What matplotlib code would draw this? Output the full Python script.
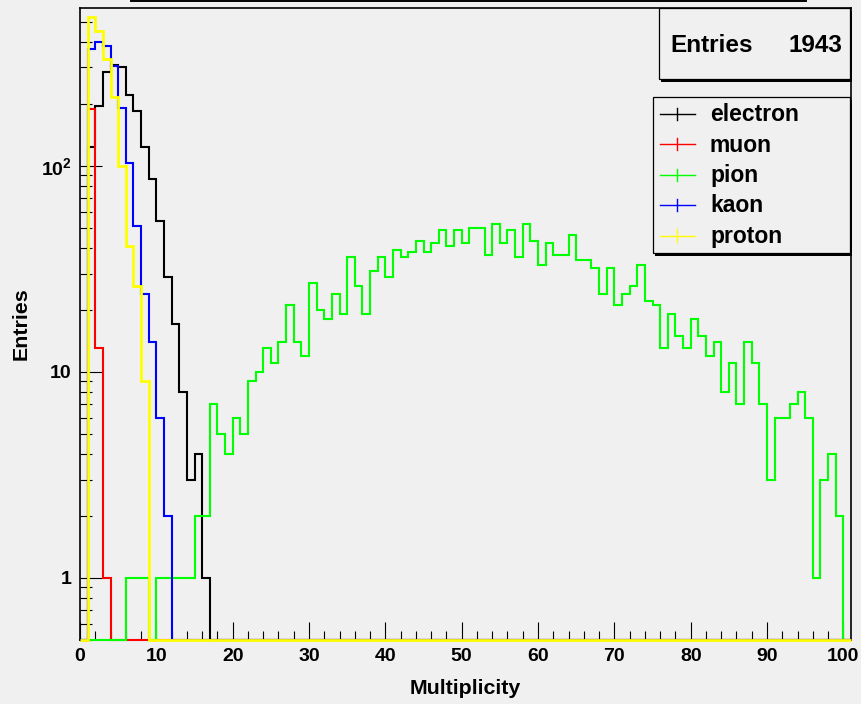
import numpy as np
import matplotlib
matplotlib.use("Agg")
import matplotlib.pyplot as plt
from matplotlib import ticker
from matplotlib.lines import Line2D
from matplotlib.patches import Rectangle

# ---- data: particle multiplicity per event, 101 bins of width 1 (0..100) ----
bin_edges = np.arange(0, 102)

electron = [0, 124, 194, 285, 308, 302, 220, 184, 124, 86,
            54, 29, 17, 8, 3, 4, 1, 0, 0, 0,
            0, 0, 0, 0, 0, 0, 0, 0, 0, 0,
            0, 0, 0, 0, 0, 0, 0, 0, 0, 0,
            0, 0, 0, 0, 0, 0, 0, 0, 0, 0,
            0, 0, 0, 0, 0, 0, 0, 0, 0, 0,
            0, 0, 0, 0, 0, 0, 0, 0, 0, 0,
            0, 0, 0, 0, 0, 0, 0, 0, 0, 0,
            0, 0, 0, 0, 0, 0, 0, 0, 0, 0,
            0, 0, 0, 0, 0, 0, 0, 0, 0, 0,
            0]

muon = [0, 188, 13, 1, 0, 0, 0, 0, 0, 0,
        0, 0, 0, 0, 0, 0, 0, 0, 0, 0,
        0, 0, 0, 0, 0, 0, 0, 0, 0, 0,
        0, 0, 0, 0, 0, 0, 0, 0, 0, 0,
        0, 0, 0, 0, 0, 0, 0, 0, 0, 0,
        0, 0, 0, 0, 0, 0, 0, 0, 0, 0,
        0, 0, 0, 0, 0, 0, 0, 0, 0, 0,
        0, 0, 0, 0, 0, 0, 0, 0, 0, 0,
        0, 0, 0, 0, 0, 0, 0, 0, 0, 0,
        0, 0, 0, 0, 0, 0, 0, 0, 0, 0,
        0]

pion = [0, 0, 0, 0, 0, 0, 1, 1, 1, 0,
        1, 1, 1, 1, 1, 2, 2, 7, 5, 4,
        6, 5, 9, 10, 13, 11, 14, 21, 14, 12,
        27, 20, 18, 24, 19, 36, 26, 19, 31, 36,
        29, 39, 36, 38, 43, 38, 42, 49, 41, 49,
        42, 50, 50, 37, 52, 42, 49, 36, 52, 43,
        33, 42, 37, 37, 46, 35, 35, 32, 24, 32,
        21, 24, 26, 33, 22, 21, 13, 19, 15, 13,
        18, 15, 12, 14, 8, 11, 7, 14, 11, 7,
        3, 6, 6, 7, 8, 6, 1, 3, 4, 2,
        0]

kaon = [0, 367, 400, 381, 305, 191, 103, 51, 24, 14,
        6, 2, 0, 0, 0, 0, 0, 0, 0, 0,
        0, 0, 0, 0, 0, 0, 0, 0, 0, 0,
        0, 0, 0, 0, 0, 0, 0, 0, 0, 0,
        0, 0, 0, 0, 0, 0, 0, 0, 0, 0,
        0, 0, 0, 0, 0, 0, 0, 0, 0, 0,
        0, 0, 0, 0, 0, 0, 0, 0, 0, 0,
        0, 0, 0, 0, 0, 0, 0, 0, 0, 0,
        0, 0, 0, 0, 0, 0, 0, 0, 0, 0,
        0, 0, 0, 0, 0, 0, 0, 0, 0, 0,
        0]

proton = [0, 530, 450, 330, 215, 100, 41, 26, 9, 0,
          0, 0, 0, 0, 0, 0, 0, 0, 0, 0,
          0, 0, 0, 0, 0, 0, 0, 0, 0, 0,
          0, 0, 0, 0, 0, 0, 0, 0, 0, 0,
          0, 0, 0, 0, 0, 0, 0, 0, 0, 0,
          0, 0, 0, 0, 0, 0, 0, 0, 0, 0,
          0, 0, 0, 0, 0, 0, 0, 0, 0, 0,
          0, 0, 0, 0, 0, 0, 0, 0, 0, 0,
          0, 0, 0, 0, 0, 0, 0, 0, 0, 0,
          0, 0, 0, 0, 0, 0, 0, 0, 0, 0,
          0]

species = ["electron", "muon", "pion", "kaon", "proton"]
series = [electron, muon, pion, kaon, proton]
colors = ["#000000", "#ff0000", "#00ff00", "#0000ff", "#ffff00"]
widths = [1.5, 1.5, 1.5, 1.5, 2.0]

n_entries = 1943
x_major = [0, 10, 20, 30, 40, 50, 60, 70, 80, 90, 100]
y_major = [1, 10, 100]
y_major_labels = ["1", "10", r"$\mathbf{10^{2}}$"]

# ---- figure ----
plt.rcParams["font.family"] = ["Liberation Sans", "DejaVu Sans"]
plt.rcParams["font.weight"] = "bold"
plt.rcParams["mathtext.fontset"] = "custom"
plt.rcParams["mathtext.rm"] = "Liberation Sans:bold"
plt.rcParams["mathtext.bf"] = "Liberation Sans:bold"

BG = "#f0f0f0"
W, H = 862, 704
fig = plt.figure(figsize=(W / 100, H / 100), dpi=100, facecolor=BG)


def fx(px):
    return px / W


def fy(py):
    return 1 - py / H


ax = fig.add_axes([fx(80), fy(640), (851 - 80) / W, (640 - 8) / H])
ax.set_facecolor(BG)
ax.set_yscale("log")
ymin, ymax = 0.5, 583
ax.set_xlim(0, 101)
ax.set_ylim(ymin, ymax)

# histograms; empty bins sit on the lower edge of the frame
for vals, c, lw in zip(series, colors, widths):
    v = np.clip(np.asarray(vals, dtype=float), ymin, None)
    ax.stairs(v, bin_edges, baseline=None, color=c, lw=lw,
              zorder=3, clip_on=False)

for s in ax.spines.values():
    s.set_linewidth(1.2)
    s.set_color("black")

ax.set_xticks(x_major)
ax.set_xticks([m for m in range(0, 101, 2) if m % 10], minor=True)
ax.set_yticks(y_major)
ax.set_yticklabels(y_major_labels)
ax.yaxis.set_minor_locator(ticker.LogLocator(base=10, subs=np.arange(2, 10)))
ax.yaxis.set_minor_formatter(ticker.NullFormatter())

ax.tick_params(axis="x", which="major", direction="in", length=13, width=0.8,
               pad=6, labelsize=14, top=False)
ax.tick_params(axis="x", which="minor", direction="in", length=6.5, width=0.8,
               top=False)
ax.tick_params(axis="y", which="major", direction="in", length=16, width=0.8,
               pad=6, labelsize=14, right=False)
ax.tick_params(axis="y", which="minor", direction="in", length=8.5, width=0.8,
               right=False)
for lab in ax.get_xticklabels() + ax.get_yticklabels():
    lab.set_fontweight("bold")

ax.set_xlabel("Multiplicity", fontsize=15.4, fontweight="bold")
ax.xaxis.set_label_coords(0.5, (640 - 688) / 632)
ax.xaxis.label.set_va("center")
ax.set_ylabel("Entries", fontsize=15.4, fontweight="bold")
ax.yaxis.set_label_coords((21 - 80) / 771, 0.5)
ax.yaxis.label.set_va("center")

# title pad edge at the top of the canvas
fig.add_artist(Line2D([fx(131), fx(806)], [fy(1.2), fy(1.2)],
                      color="black", lw=1.4))


def shadow_box(x0, y0, x1, y1, d=2.5):
    fig.add_artist(Rectangle((fx(x0 + d), fy(y1 + d)), (x1 - x0) / W,
                             (y1 - y0) / H, transform=fig.transFigure,
                             facecolor="black", edgecolor="none", zorder=5))
    fig.add_artist(Rectangle((fx(x0), fy(y1)), (x1 - x0) / W, (y1 - y0) / H,
                             transform=fig.transFigure, facecolor=BG,
                             edgecolor="black", lw=0.9, zorder=6))


# statistics box
shadow_box(659, 8, 850, 79)
fig.text(fx(670), fy(46), "Entries", fontsize=17.5, fontweight="bold",
         ha="left", va="center", zorder=7)
fig.text(fx(842), fy(46), f"{n_entries}", fontsize=17.5, fontweight="bold",
         ha="right", va="center", zorder=7)

# legend
shadow_box(653, 97, 850, 253)
for i, (name, c) in enumerate(zip(species, colors)):
    yc = 113.5 + 30.5 * i
    fig.add_artist(Line2D([fx(660), fx(695)], [fy(yc), fy(yc)], color=c,
                          lw=1.0, zorder=7))
    fig.add_artist(Line2D([fx(677.5), fx(677.5)], [fy(yc - 6), fy(yc + 6)],
                          color=c, lw=1.0, zorder=7))
    fig.text(fx(710), fy(yc + 7.5), name, fontsize=16.5, fontweight="bold",
             ha="left", va="baseline", zorder=7)

fig.savefig("out.png", dpi=100, facecolor=BG)
